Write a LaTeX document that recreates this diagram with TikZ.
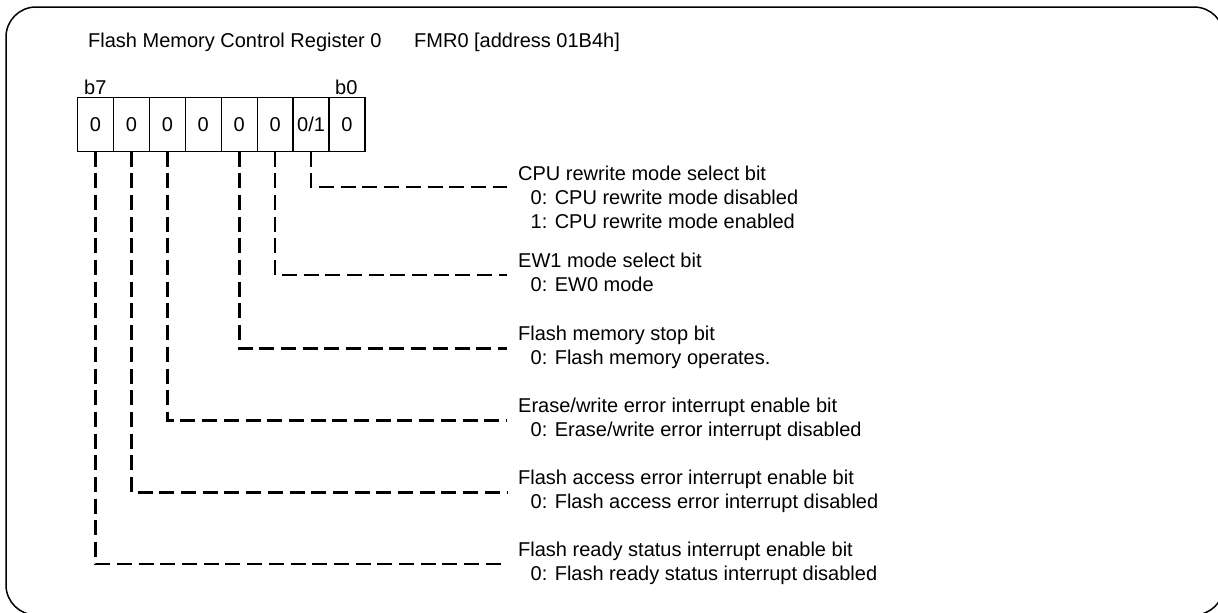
\documentclass[tikz,border=0pt]{standalone}
\usepackage{fontspec}
\setmainfont{Liberation Sans}
\begin{document}
\begin{tikzpicture}[x=1pt,y=-1pt,
  every node/.style={font=\fontsize{20}{24}\selectfont},
  txt/.style={inner sep=0pt,anchor=base west},
  cell/.style={draw,line width=1.3pt,minimum width=35.94pt,minimum height=54pt,
    inner sep=0pt,outer sep=0pt,anchor=north west,text height=14.3pt,text depth=0pt},
  dashline/.style={line width=2.6pt,dash pattern=on 15pt off 6.7pt}]

\useasboundingbox (0,0) rectangle (1218,613);
\begin{scope}
  \clip (0,0) rectangle (1218,613);
  \draw[line width=1.5pt,rounded corners=30pt] (6,7) rectangle (1224,615);
\end{scope}

% heading
\node[txt] (title) at (88,47.5) {Flash Memory Control Register 0};
\node[txt] (addr) at (414,47.5) {FMR0 [address 01B4h]};
\node[txt] (b7) at (84,94) {b7};
\node[txt] (b0) at (335,94) {b0};

% register cells, b7 on the left
\foreach \v [count=\i from 0] in {0,0,0,0,0,0,0/1,0} {
  \pgfmathtruncatemacro{\bit}{7-\i}
  \node[cell] (c\bit) at (77.5+\i*35.94,97.5) {\v};
}

% bit descriptions
\node[txt] (d1) at (518,180.5) {CPU rewrite mode select bit};
\node[txt] (d1a) at (530.5,204.5) {0: CPU rewrite mode disabled};
\node[txt] (d1b) at (530.5,228.5) {1: CPU rewrite mode enabled};

\node[txt] (d2) at (518,267.5) {EW1 mode select bit};
\node[txt] (d2a) at (530.5,291.5) {0: EW0 mode};

\node[txt] (d3) at (518,340.5) {Flash memory stop bit};
\node[txt] (d3a) at (530.5,364.5) {0: Flash memory operates.};

\node[txt] (d5) at (518,412.5) {Erase/write error interrupt enable bit};
\node[txt] (d5a) at (530.5,436.5) {0: Erase/write error interrupt disabled};

\node[txt] (d6) at (518,484.5) {Flash access error interrupt enable bit};
\node[txt] (d6a) at (530.5,508.5) {0: Flash access error interrupt disabled};

\node[txt] (d7) at (518,556.5) {Flash ready status interrupt enable bit};
\node[txt] (d7a) at (530.5,580.5) {0: Flash ready status interrupt disabled};

% leader line ends
\coordinate (e1) at (507,187);
\coordinate (e2) at (507,275);
\coordinate (e3) at (507,348.5);
\coordinate (e5) at (507,420.5);
\coordinate (e6) at (507,492.5);
\coordinate (e7) at (507,564);

% leaders
\foreach \b in {1,2,3,5,6,7}
  \draw[dashline] (c\b.south) |- (e\b);
\end{tikzpicture}
\end{document}
